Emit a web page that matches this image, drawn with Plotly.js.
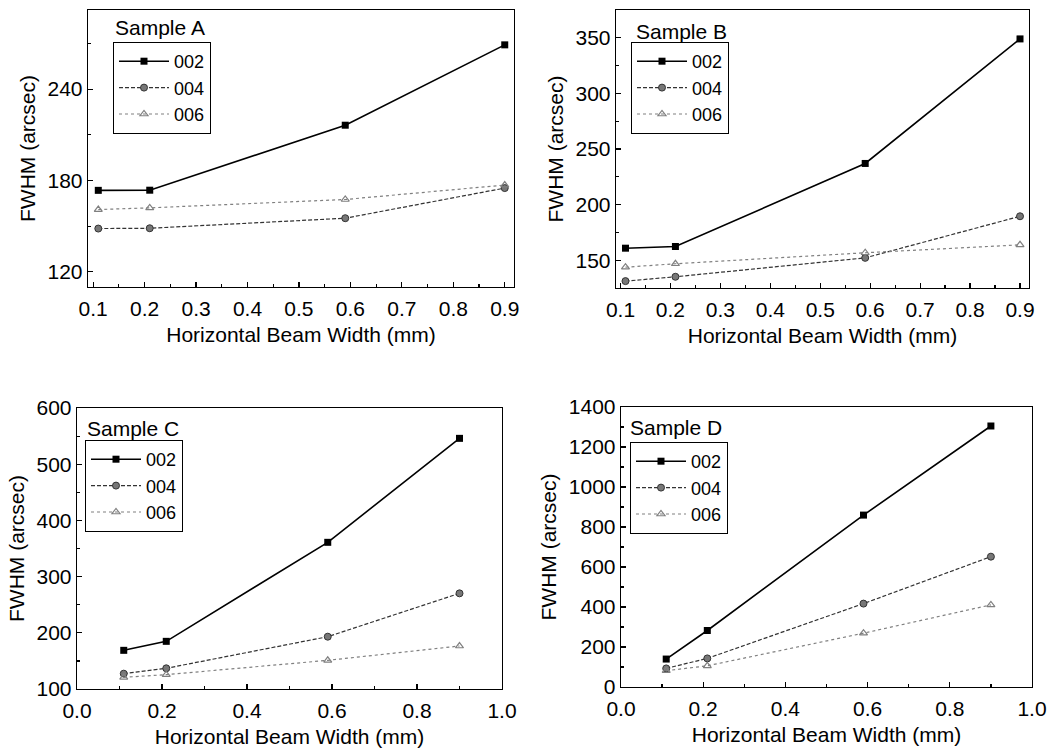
<!DOCTYPE html>
<html>
<head>
<meta charset="utf-8">
<script src="https://cdn.plot.ly/plotly-3.0.1.min.js"></script>
<style>html,body{margin:0;padding:0;background:#fff;}#chart{width:1052px;height:753px;}</style>
</head>
<body>
<div id="chart"></div>
<script>
// ---- data ----
const seriesNames = ["002", "004", "006"];
const sampleNames = ["Sample A", "Sample B", "Sample C", "Sample D"];
const beamWidth = [0.11, 0.21, 0.59, 0.9];

const sampleA_002 = [173.5, 173.6, 216.3, 269.1];
const sampleA_004 = [148.4, 148.6, 155.2, 175.0];
const sampleA_006 = [160.9, 162.0, 167.5, 177.0];

const sampleB_002 = [160.8, 162.3, 237.0, 349.0];
const sampleB_004 = [131.2, 135.1, 152.1, 189.5];
const sampleB_006 = [143.7, 146.8, 156.7, 163.8];

const sampleC_002 = [168.8, 184.8, 361.0, 546.0];
const sampleC_004 = [127.3, 136.8, 193.1, 270.2];
const sampleC_006 = [120.8, 125.5, 151.0, 176.5];

const sampleD_002 = [139.7, 282.6, 859.5, 1305.0];
const sampleD_004 = [93.0, 143.0, 417.0, 651.7];
const sampleD_006 = [81.5, 106.0, 269.0, 410.6];

const xTitle = "Horizontal Beam Width (mm)";
const yTitle = "FWHM (arcsec)";

// ---- styles ----
const FONT = "Liberation Sans, Arial, Helvetica, sans-serif";
const styles = [
  {line: {color: "#000000", width: 1.6, dash: "solid"}, marker: {symbol: "square", size: 7, color: "#000000"}},
  {line: {color: "#333333", width: 1.2, dash: "4px,2px"}, marker: {symbol: "circle", size: 7, color: "#777777", line: {color: "#333333", width: 1}}},
  {line: {color: "#808080", width: 1.2, dash: "dot"}, marker: {symbol: "triangle-up-open", size: 7, color: "#808080", line: {width: 1.2}}}
];

const panels = [
  {data: [sampleA_002, sampleA_004, sampleA_006], xr: [0.09, 0.918], xd: 0.1, yr: [110, 292], yd: 60,
   dx: [88, 514], dy: [10, 287], leg: [113, 42], lab: [113, 28]},
  {data: [sampleB_002, sampleB_004, sampleB_006], xr: [0.091, 0.918], xd: 0.1, yr: [125, 375], yd: 50,
   dx: [616, 1029], dy: [10, 288], leg: [631, 42], lab: [634, 32]},
  {data: [sampleC_002, sampleC_004, sampleC_006], xr: [0, 1], xd: 0.2, yr: [100, 600], yd: 100,
   dx: [77, 502], dy: [408, 689], leg: [85, 440], lab: [85, 428]},
  {data: [sampleD_002, sampleD_004, sampleD_006], xr: [0, 1], xd: 0.2, yr: [0, 1400], yd: 200,
   dx: [621, 1032], dy: [407, 687], leg: [630, 442], lab: [628, 427]}
];

const W = 1052, H = 753;
const traces = [];
const layout = {
  width: W, height: H,
  margin: {l: 0, r: 0, t: 0, b: 0},
  paper_bgcolor: "#ffffff", plot_bgcolor: "#ffffff",
  font: {family: FONT, size: 20, color: "#000"},
  annotations: [],
  showlegend: true
};

panels.forEach((p, i) => {
  const n = i === 0 ? "" : String(i + 1);
  const legKey = "legend" + n;
  p.data.forEach((vals, k) => {
    traces.push(Object.assign({
      type: "scatter", mode: "lines+markers",
      x: beamWidth, y: vals, name: seriesNames[k],
      xaxis: "x" + n, yaxis: "y" + n, legend: legKey
    }, JSON.parse(JSON.stringify(styles[k]))));
  });
  const common = {
    showline: true, mirror: true, linecolor: "#000", linewidth: 1.3,
    ticks: "inside", ticklen: 5, tickwidth: 1.2, tickcolor: "#000",
    showgrid: false, zeroline: false,
    tickfont: {family: FONT, size: 21, color: "#000"},
    title: {font: {family: FONT, size: 21, color: "#000"}}
  };
  layout["xaxis" + n] = Object.assign({}, JSON.parse(JSON.stringify(common)), {
    domain: [p.dx[0] / W, p.dx[1] / W], range: p.xr, dtick: p.xd, tick0: 0,
    anchor: "y" + n, tickformat: ".1f",
    minor: {ticks: "inside", ticklen: 3, dtick: p.xd / 2, tickcolor: "#000", showgrid: false},
    ticklabelstandoff: 2
  });
  layout["xaxis" + n].title.text = xTitle;
  layout["xaxis" + n].title.standoff = 8;
  layout["yaxis" + n] = Object.assign({}, JSON.parse(JSON.stringify(common)), {
    domain: [1 - p.dy[1] / H, 1 - p.dy[0] / H], range: p.yr, dtick: p.yd, tick0: 0,
    anchor: "x" + n,
    minor: {ticks: "inside", ticklen: 3, dtick: p.yd / 2, tickcolor: "#000", showgrid: false},
    ticklabelstandoff: 0
  });
  layout["yaxis" + n].title.text = yTitle;
  layout["yaxis" + n].title.standoff = 6;
  layout[legKey] = {
    x: p.leg[0] / W, y: 1 - p.leg[1] / H, xanchor: "left", yanchor: "top",
    xref: "paper", yref: "paper",
    bordercolor: "#000", borderwidth: 1, bgcolor: "#fff",
    font: {family: FONT, size: 18, color: "#000"},
    itemwidth: 50, tracegroupgap: 0
  };
  layout.annotations.push({
    text: sampleNames[i], xref: "paper", yref: "paper",
    x: p.lab[0] / W, y: 1 - p.lab[1] / H, xanchor: "left", yanchor: "middle",
    showarrow: false, font: {family: FONT, size: 21, color: "#000"}
  });
});

Plotly.newPlot("chart", traces, layout, {displayModeBar: false, staticPlot: true});
</script>
</body>
</html>
